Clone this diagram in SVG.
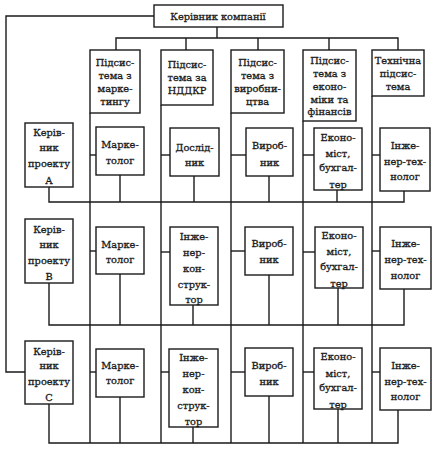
<svg xmlns="http://www.w3.org/2000/svg" width="433" height="454" viewBox="0 0 433 454">
<style>
.b{fill:#fff;stroke:#1a1a1a;stroke-width:1.4}
.c{fill:none;stroke:#1a1a1a;stroke-width:1.4}
text{font-family:"DejaVu Serif","Liberation Serif",serif;font-size:9.8px;fill:#1a1a1a;stroke:#1a1a1a;stroke-width:0.3;text-anchor:middle}
</style>
<rect width="433" height="454" fill="#fff"/>
<g id="connectors" class="c">
<polyline points="154,16 6,16 6,372 25,372"/>
<polyline points="217,27 217,38"/>
<polyline points="116,50 116,38 398,38 398,50"/>
<line x1="186" y1="38" x2="186" y2="50"/>
<line x1="258" y1="38" x2="258" y2="50"/>
<line x1="329" y1="38" x2="329" y2="50"/>
<line x1="90" y1="113" x2="90" y2="443"/>
<line x1="161" y1="105" x2="161" y2="443"/>
<line x1="231" y1="113" x2="231" y2="443"/>
<line x1="303" y1="121" x2="303" y2="443"/>
<line x1="372" y1="96" x2="372" y2="443"/>
<polyline points="49,187 49,202 404,202 404,191"/>
<line x1="120" y1="175" x2="120" y2="202"/>
<line x1="194" y1="176" x2="194" y2="202"/>
<line x1="269" y1="176" x2="269" y2="202"/>
<line x1="337" y1="190" x2="337" y2="202"/>
<polyline points="49,283 49,325 404,325 404,289"/>
<line x1="120" y1="274" x2="120" y2="325"/>
<line x1="193" y1="305" x2="193" y2="325"/>
<line x1="269" y1="275" x2="269" y2="325"/>
<line x1="338" y1="288" x2="338" y2="325"/>
<polyline points="49,404 49,443 398,443 398,410"/>
<line x1="120" y1="397" x2="120" y2="443"/>
<line x1="193" y1="427" x2="193" y2="443"/>
<line x1="269" y1="396" x2="269" y2="443"/>
<line x1="338" y1="409" x2="338" y2="443"/>
<line x1="90" y1="155" x2="96" y2="155"/>
<line x1="161" y1="155" x2="170" y2="155"/>
<line x1="231" y1="155" x2="246" y2="155"/>
<line x1="303" y1="155" x2="314" y2="155"/>
<line x1="372" y1="155" x2="380" y2="155"/>
<line x1="90" y1="251" x2="96" y2="251"/>
<line x1="161" y1="252" x2="170" y2="252"/>
<line x1="231" y1="251" x2="245" y2="251"/>
<line x1="303" y1="252" x2="315" y2="252"/>
<line x1="372" y1="251" x2="380" y2="251"/>
<line x1="90" y1="372" x2="96" y2="372"/>
<line x1="161" y1="372" x2="169" y2="372"/>
<line x1="231" y1="372" x2="245" y2="372"/>
<line x1="303" y1="372" x2="314" y2="372"/>
<line x1="372" y1="372" x2="380" y2="372"/>
</g>
<g id="ceo"><rect class="b" x="154" y="5" width="129" height="22"/><text x="218" y="20">Керівник компанії</text></g>
<g id="sub-marketing"><rect class="b" x="90" y="50" width="50" height="63"/><text x="115" y="66">Підсис-</text><text x="115" y="79">тема з</text><text x="115" y="92">марке-</text><text x="115" y="105">тингу</text></g>
<g id="sub-rnd"><rect class="b" x="161" y="50" width="52" height="55"/><text x="187" y="68">Підсис-</text><text x="187" y="81">тема за</text><text x="187" y="94">НДДКР</text></g>
<g id="sub-production"><rect class="b" x="231" y="50" width="53" height="63"/><text x="257.5" y="66">Підсис-</text><text x="257.5" y="79">тема з</text><text x="257.5" y="92">виробни-</text><text x="257.5" y="105">цтва</text></g>
<g id="sub-economics"><rect class="b" x="303" y="50" width="53" height="71"/><text x="329.5" y="64">Підсис-</text><text x="329.5" y="77">тема з</text><text x="329.5" y="90">еконо-</text><text x="329.5" y="102.5">міки та</text><text x="329.5" y="115">фінансів</text></g>
<g id="sub-tech"><rect class="b" x="372" y="50" width="52" height="46"/><text x="398" y="64">Технічна</text><text x="398" y="77">підсис-</text><text x="398" y="90">тема</text></g>
<g id="pm-a"><rect class="b" x="25" y="123" width="48" height="64"/><text x="49" y="136">Керів-</text><text x="49" y="151">ник</text><text x="49" y="167">проекту</text><text x="49" y="184">А</text></g>
<g id="pm-b"><rect class="b" x="25" y="219" width="48" height="64"/><text x="49" y="233">Керів-</text><text x="49" y="248">ник</text><text x="49" y="264">проекту</text><text x="49" y="280">В</text></g>
<g id="pm-c"><rect class="b" x="25" y="341" width="48" height="63"/><text x="49" y="355">Керів-</text><text x="49" y="369">ник</text><text x="49" y="385">проекту</text><text x="49" y="401">С</text></g>
<g id="mkt-a"><rect class="b" x="96" y="127" width="48" height="48"/><text x="120" y="148">Марке-</text><text x="120" y="164">толог</text></g>
<g id="mkt-b"><rect class="b" x="96" y="227" width="48" height="47"/><text x="120" y="248">Марке-</text><text x="120" y="263">толог</text></g>
<g id="mkt-c"><rect class="b" x="96" y="349" width="48" height="48"/><text x="120" y="369">Марке-</text><text x="120" y="384">толог</text></g>
<g id="rnd-a"><rect class="b" x="170" y="128" width="49" height="48"/><text x="194.5" y="151">Дослід-</text><text x="194.5" y="166">ник</text></g>
<g id="rnd-b"><rect class="b" x="170" y="227" width="48" height="78"/><text x="194" y="240">Інже-</text><text x="194" y="256">нер-</text><text x="194" y="272">кон-</text><text x="194" y="288">струк-</text><text x="194" y="303">тор</text></g>
<g id="rnd-c"><rect class="b" x="169" y="349" width="49" height="78"/><text x="193.5" y="361">Інже-</text><text x="193.5" y="377">нер-</text><text x="193.5" y="393">кон-</text><text x="193.5" y="409">струк-</text><text x="193.5" y="425">тор</text></g>
<g id="prod-a"><rect class="b" x="246" y="128" width="47" height="48"/><text x="269.5" y="149">Вироб-</text><text x="269.5" y="166">ник</text></g>
<g id="prod-b"><rect class="b" x="245" y="227" width="48" height="48"/><text x="269" y="247">Вироб-</text><text x="269" y="263">ник</text></g>
<g id="prod-c"><rect class="b" x="245" y="348" width="48" height="48"/><text x="269" y="369">Вироб-</text><text x="269" y="385">ник</text></g>
<g id="eco-a"><rect class="b" x="314" y="128" width="48" height="62"/><text x="338" y="141">Еконо-</text><text x="338" y="157">міст,</text><text x="338" y="171">бухгал-</text><text x="338" y="188">тер</text></g>
<g id="eco-b"><rect class="b" x="315" y="227" width="48" height="61"/><text x="339" y="239">Еконо-</text><text x="339" y="255">міст,</text><text x="339" y="270">бухгал-</text><text x="339" y="287">тер</text></g>
<g id="eco-c"><rect class="b" x="314" y="348" width="48" height="61"/><text x="338" y="360">Еконо-</text><text x="338" y="377">міст,</text><text x="338" y="391">бухгал-</text><text x="338" y="408">тер</text></g>
<g id="tech-a"><rect class="b" x="380" y="128" width="50" height="63"/><text x="405" y="149">Інже-</text><text x="405" y="165">нер-тех-</text><text x="405" y="180">нолог</text></g>
<g id="tech-b"><rect class="b" x="380" y="227" width="51" height="62"/><text x="405.5" y="247">Інже-</text><text x="405.5" y="263">нер-тех-</text><text x="405.5" y="279">нолог</text></g>
<g id="tech-c"><rect class="b" x="380" y="348" width="51" height="62"/><text x="405.5" y="369">Інже-</text><text x="405.5" y="385">нер-тех-</text><text x="405.5" y="400">нолог</text></g>
</svg>
